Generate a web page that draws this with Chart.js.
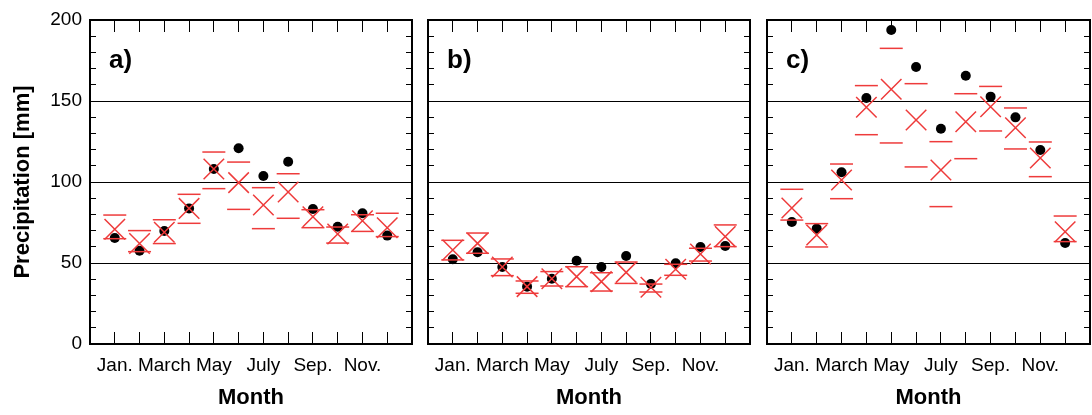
<!DOCTYPE html>
<html><head><meta charset="utf-8">
<script src="https://cdn.jsdelivr.net/npm/chart.js@4"></script>
<style>
html,body{margin:0;padding:0;background:#fff;width:1092px;height:415px;overflow:hidden}
canvas{position:absolute;top:0}
</style></head><body>
<canvas id="ca" width="420" height="415" style="left:0"></canvas>
<canvas id="cb" width="338" height="415" style="left:420px"></canvas>
<canvas id="cc" width="334" height="415" style="left:758px"></canvas>
<script>
const months = [1,2,3,4,5,6,7,8,9,10,11,12];
const tickMonths = [1,3,5,7,9,11];
const tickLabels = ['Jan.','March','May','July','Sep.','Nov.'];
const yLabelTicks = [0,50,100,150,200];
const gridValues = [50,100,150];

const obsA  = [65.4,57.6,69.8,83.7,108,120.8,103.7,112.5,83.3,72.4,80.7,66.9];
const meanA = [70.8,62,69,83.7,108,99.6,85.8,93.8,78.6,67.9,76.1,71.8];
const upA   = [79.6,70,76.7,92.4,118.5,112.3,96.5,105.1,82.9,72.2,79.8,80.7];
const lowA  = [65,57,62,74.5,95.9,83.1,71.2,77.6,71.8,62.3,69.5,66.3];

const obsB  = [52.3,56.6,47.5,35.4,40.3,51.4,47.5,54.3,37,49.8,59.9,60.5];
const meanB = [58,62.1,47.5,35.4,40.3,41.6,38.5,44.2,35,46.1,55.6,66.3];
const upB   = [64,68.5,52.5,38.9,44.7,47.7,44,50.6,37,49.2,59.1,73.5];
const lowB  = [51.9,56,42.2,31.3,35.8,35.4,32.7,37.4,32.1,42.4,51.2,60.1];

const obsC  = [75.3,71.2,106,151.9,193.8,171,132.9,165.6,152.7,139.9,119.8,62.3];
const meanC = [84,67.3,101.2,146.1,157.2,138.3,107.4,137.2,146.5,133.5,114.8,69.3];
const upC   = [95.5,74.3,111.1,159.5,182.5,160.7,124.9,154.5,159,145.7,124.7,79];
const lowC  = [76.5,59.9,89.7,129.2,124.1,109.3,84.8,114.4,131.5,120.4,103.3,63.2];

const FONT = '"Liberation Sans", Arial, Helvetica, sans-serif';
Chart.defaults.font.family = FONT;
Chart.defaults.color = '#000';
const RED = '#ee3b3b';

const panelLabel = {
  id: 'panelLabel',
  afterDraw(chart, args, opts) {
    const {ctx, chartArea} = chart;
    ctx.save();
    ctx.font = 'bold 26px ' + FONT;
    ctx.fillStyle = '#000';
    ctx.textBaseline = 'alphabetic';
    ctx.fillText(opts.text, chartArea.left + 19, chartArea.top + 48);
    ctx.restore();
  }
};

function pts(arr) { return months.map((m, i) => ({x: m, y: arr[i]})); }

function noPad(a) { a.paddingLeft = 0; a.paddingRight = 0; a.paddingTop = 0; a.paddingBottom = 0; }

function makePanel(id, obs, mean, up, low, label, showY, padL, padR) {
  const monthTicks = axis => { axis.ticks = months.map(v => ({value: v})); };
  const yTicks = axis => { const t = []; for (let v = 0; v <= 200; v += 10) t.push({value: v}); axis.ticks = t; };
  const border = {display: true, color: '#000', width: 2};
  new Chart(document.getElementById(id), {
    type: 'scatter',
    data: {
      datasets: [
        {data: pts(mean), pointStyle: 'crossRot', radius: 14.5, borderColor: RED, borderWidth: 1.5, backgroundColor: RED},
        {data: pts(up), pointStyle: 'line', radius: 11.5, borderColor: RED, borderWidth: 1.5, backgroundColor: RED},
        {data: pts(low), pointStyle: 'line', radius: 11.5, borderColor: RED, borderWidth: 1.5, backgroundColor: RED},
        {data: pts(obs), pointStyle: 'circle', radius: 5, borderWidth: 0, backgroundColor: '#000'}
      ]
    },
    options: {
      responsive: false, animation: false, devicePixelRatio: 1, events: [],
      clip: false,
      layout: {autoPadding: false, padding: {top: 20, bottom: 0, left: padL, right: padR}},
      plugins: {legend: {display: false}, tooltip: {enabled: false}, panelLabel: {text: label}},
      scales: {
        x: {
          type: 'linear', position: 'bottom', min: 0, max: 13,
          afterBuildTicks: monthTicks,
          afterFit: a => { a.height = 71; noPad(a); },
          ticks: {
            autoSkip: false, maxRotation: 0, padding: 22,
            font: {size: 19}, color: '#000',
            callback: v => { const i = tickMonths.indexOf(v); return i >= 0 ? tickLabels[i] : ''; }
          },
          grid: {drawOnChartArea: false, drawTicks: true, tickLength: -12, color: '#000', lineWidth: 1},
          border: border,
          title: {display: true, text: 'Month', font: {size: 22, weight: 'bold'}, color: '#000', padding: {top: 0, bottom: 4}}
        },
        x2: {
          type: 'linear', position: 'top', min: 0, max: 13,
          afterBuildTicks: monthTicks,
          afterFit: a => { a.height = 0; noPad(a); },
          ticks: {display: false},
          grid: {drawOnChartArea: false, drawTicks: true, tickLength: -12, color: '#000', lineWidth: 1},
          border: border
        },
        y: {
          type: 'linear', position: 'left', min: 0, max: 200,
          afterBuildTicks: yTicks,
          afterFit: a => { a.width = showY ? 90 : 0; noPad(a); },
          ticks: {
            display: showY, autoSkip: false, padding: 14, font: {size: 19}, color: '#000',
            callback: v => yLabelTicks.includes(v) ? String(v) : ''
          },
          grid: {
            drawOnChartArea: true, drawTicks: true, tickLength: -6, lineWidth: 1,
            color: c => (c.tick && gridValues.includes(c.tick.value)) ? '#000' : 'rgba(0,0,0,0)',
            tickColor: '#000'
          },
          border: border,
          title: {display: showY, text: 'Precipitation [mm]', font: {size: 22, weight: 'bold'}, color: '#000', padding: {top: 10, bottom: 0}}
        },
        y2: {
          type: 'linear', position: 'right', min: 0, max: 200,
          afterBuildTicks: yTicks,
          afterFit: a => { a.width = 0; noPad(a); },
          ticks: {display: false},
          grid: {drawOnChartArea: false, drawTicks: true, tickLength: -6, color: '#000', lineWidth: 1},
          border: border
        }
      }
    },
    plugins: [panelLabel]
  });
}

makePanel('ca', obsA, meanA, upA, lowA, 'a)', true, 0, 8);
makePanel('cb', obsB, meanB, upB, lowB, 'b)', false, 8, 8);
makePanel('cc', obsC, meanC, upC, lowC, 'c)', false, 9, 2);
</script>
</body></html>
